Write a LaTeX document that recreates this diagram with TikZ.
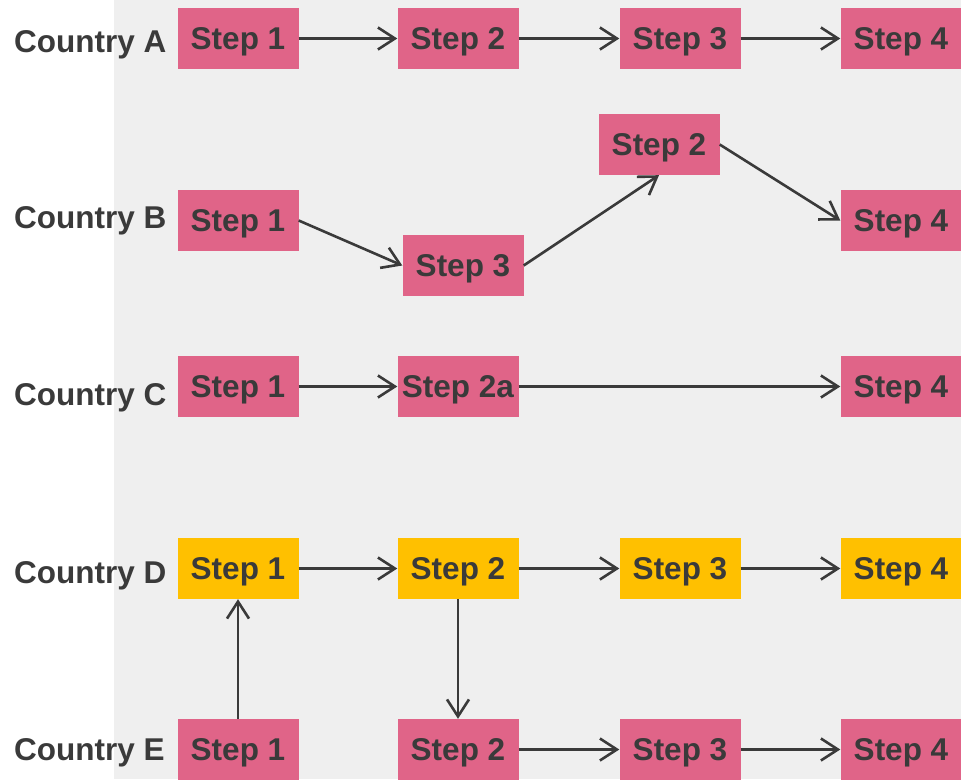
\documentclass[tikz,border=0pt]{standalone}
\usepackage{fontspec}
\setmainfont{Liberation Sans}
\usetikzlibrary{arrows.meta}
\definecolor{bgray}{HTML}{EFEFEF}
\definecolor{pinkbox}{HTML}{E06488}
\definecolor{yellowbox}{HTML}{FFC000}
\definecolor{txt}{HTML}{3A3A3A}
\tikzset{
  stepbox/.style={fill=pinkbox, draw=none, minimum width=121pt, minimum height=61pt,
    inner sep=0pt, text height=22pt, text depth=0pt, text=txt,
    font=\fontsize{31.5pt}{31.5pt}\selectfont\bfseries},
  ybox/.style={stepbox, fill=yellowbox},
  country/.style={anchor=base west, inner sep=0pt, text=txt,
    font=\fontsize{31.5pt}{31.5pt}\selectfont\bfseries},
  flow/.style={draw=txt, line width=2.6pt, -{Straight Barb[length=17pt,width=22pt,line width=2.6pt]}}
}
\begin{document}
\begin{tikzpicture}[x=1pt,y=-1pt]
\useasboundingbox (0,0) rectangle (961,779);
\fill[bgray] (114,0) rectangle (961,779);
% labels
\node[country] (la) at (14,52) {Country A};
\node[country] (lb) at (14,228) {Country B};
\node[country] (lc) at (14,405) {Country C};
\node[country] (ld) at (14,583) {Country D};
\node[country] (le) at (14,760) {Country E};
% row A
\node[stepbox] (a1) at (238,38.5) {Step 1};
\node[stepbox] (a2) at (458,38.5) {Step 2};
\node[stepbox] (a3) at (680,38.5) {Step 3};
\node[stepbox] (a4) at (901,38.5) {Step 4};
% row B
\node[stepbox] (b1) at (238,220.5) {Step 1};
\node[stepbox] (b3) at (463,265.5) {Step 3};
\node[stepbox] (b2) at (659,144.5) {Step 2};
\node[stepbox] (b4) at (901,220.5) {Step 4};
% row C
\node[stepbox] (c1) at (238,386.5) {Step 1};
\node[stepbox] (c2) at (458,386.5) {Step 2a};
\node[stepbox] (c4) at (901,386.5) {Step 4};
% row D
\node[ybox] (d1) at (238,568.5) {Step 1};
\node[ybox] (d2) at (458,568.5) {Step 2};
\node[ybox] (d3) at (680,568.5) {Step 3};
\node[ybox] (d4) at (901,568.5) {Step 4};
% row E
\node[stepbox] (e1) at (238,749.5) {Step 1};
\node[stepbox] (e2) at (458,749.5) {Step 2};
\node[stepbox] (e3) at (680,749.5) {Step 3};
\node[stepbox] (e4) at (901,749.5) {Step 4};
% connectors
\draw[flow] (a1.east) -- (a2.west);
\draw[flow] (a2.east) -- (a3.west);
\draw[flow] (a3.east) -- (a4.west);
\draw[flow] (b1.east) -- (b3.west);
\draw[flow] (b3.east) -- (b2.south);
\draw[flow] (b2.east) -- (b4.west);
\draw[flow] (c1.east) -- (c2.west);
\draw[flow] (c2.east) -- (c4.west);
\draw[flow] (d1.east) -- (d2.west);
\draw[flow] (d2.east) -- (d3.west);
\draw[flow] (d3.east) -- (d4.west);
\draw[flow] (e1.north) -- (d1.south);
\draw[flow] (d2.south) -- (e2.north);
\draw[flow] (e2.east) -- (e3.west);
\draw[flow] (e3.east) -- (e4.west);
\end{tikzpicture}
\end{document}
